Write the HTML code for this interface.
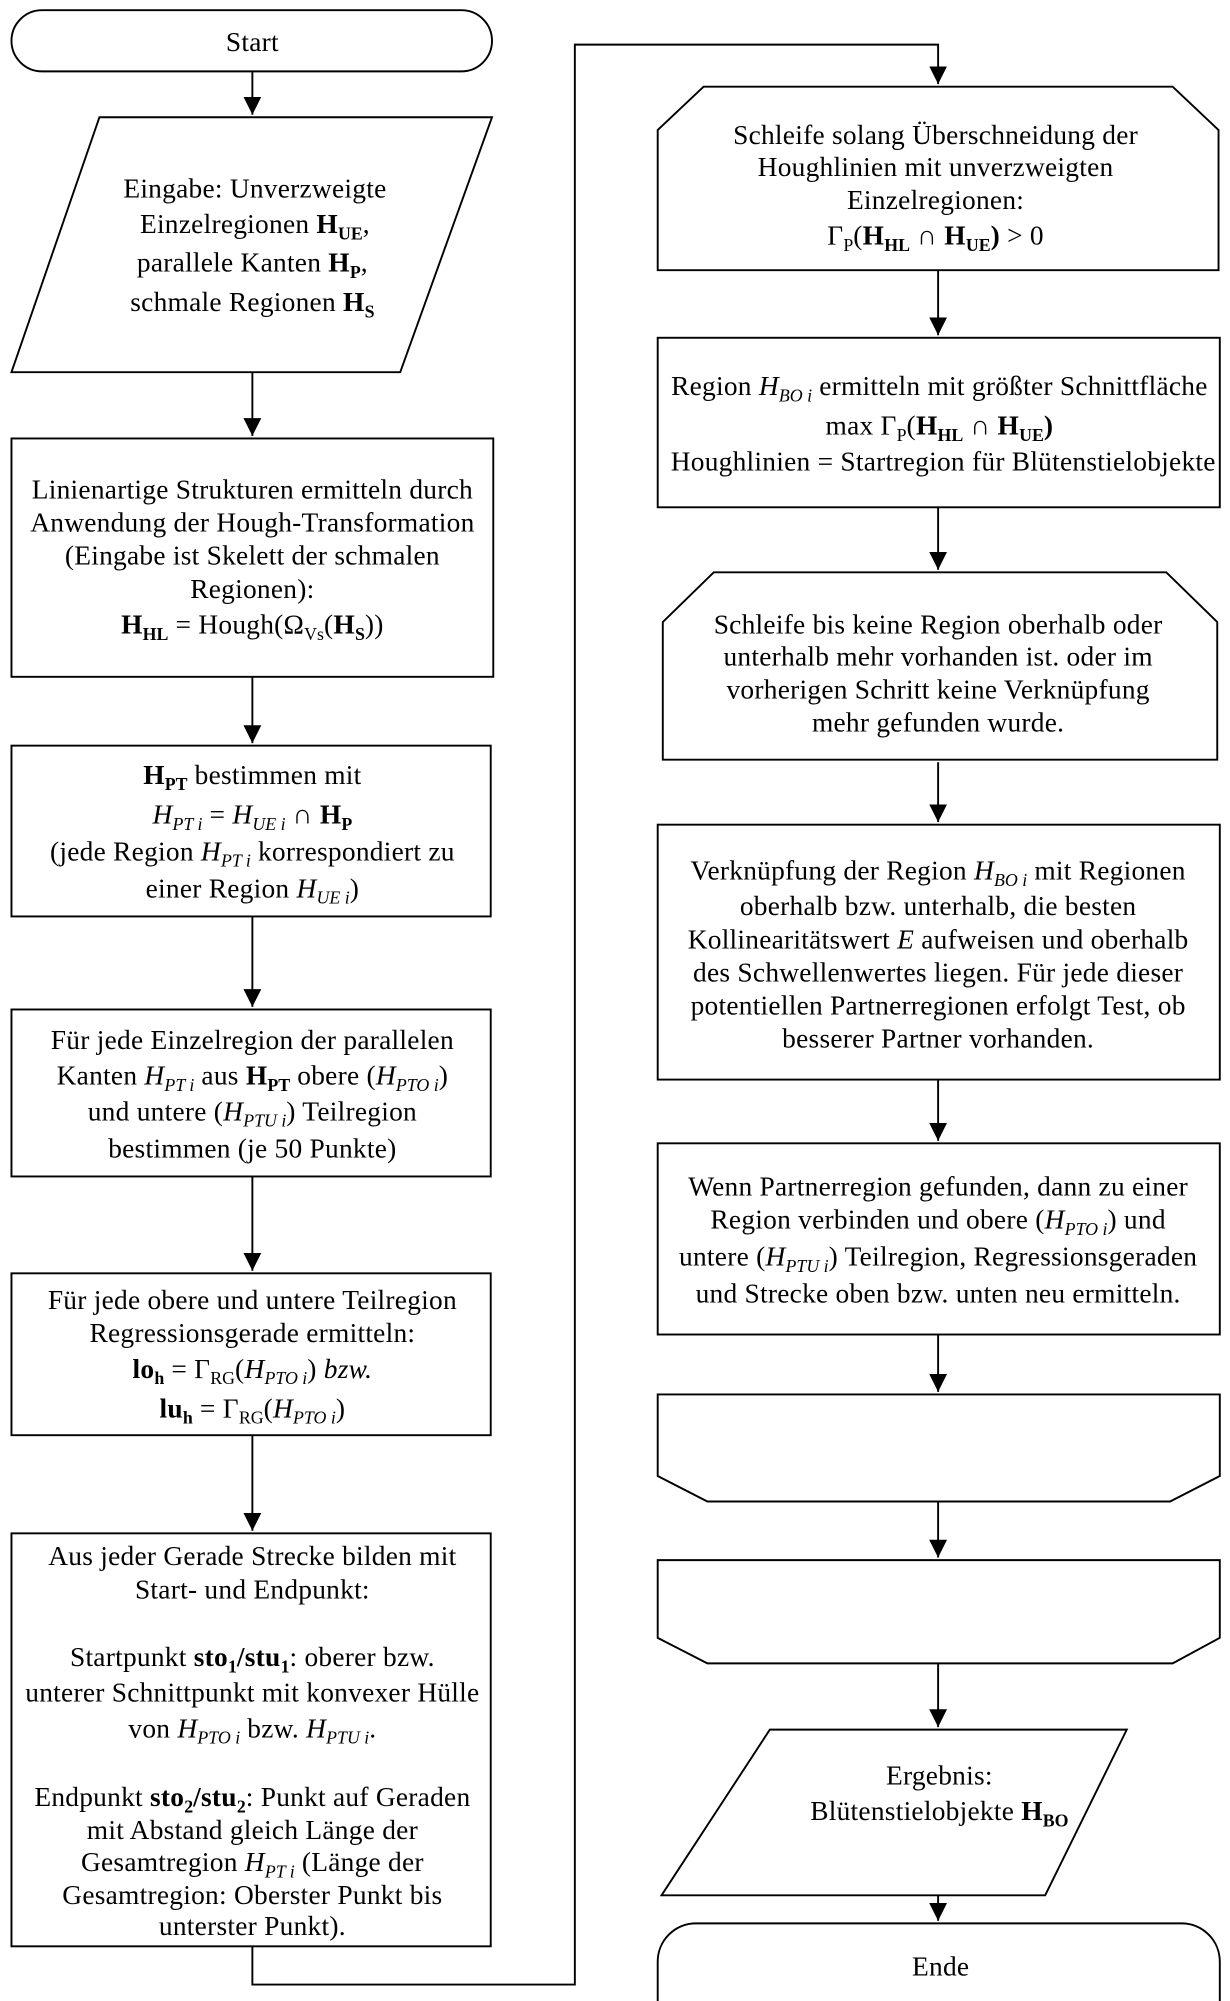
<!DOCTYPE html>
<html><head><meta charset="utf-8"><style>
html,body{margin:0;padding:0;background:#fff}
svg{display:block}
text{font-family:"Liberation Serif","DejaVu Serif",serif;font-size:21.5px;letter-spacing:0.2px;fill:#000;text-anchor:middle}
.s{font-size:14px;letter-spacing:0}
.i{font-style:italic}
.b{font-weight:bold}
</style></head><body>
<svg width="1230" height="2001" viewBox="0 0 965 1569.9" preserveAspectRatio="none" xmlns="http://www.w3.org/2000/svg">
<defs>
<marker id="ar" viewBox="0 0 10 10" markerWidth="14" markerHeight="16" refX="10" refY="5" orient="auto" markerUnits="userSpaceOnUse"><path d="M0,0 L10,5 L0,10 z"/></marker></defs>
<g fill="none" stroke="#000" stroke-width="1.5">
<rect x="9" y="8" width="377" height="48" rx="24"/>
<polygon points="78,92 386,92 314,292 9,292"/>
<rect x="9" y="344" width="378" height="187"/>
<rect x="9" y="585" width="376" height="134"/>
<rect x="9" y="792" width="376" height="131"/>
<rect x="9" y="999" width="376" height="127"/>
<rect x="9" y="1203" width="376" height="324"/>
<polygon points="516,102 552,68 920,68 956,102 956,212 516,212"/>
<rect x="516" y="265" width="441" height="133"/>
<polygon points="520,488 560,449 915,449 955,488 955,596 520,596"/>
<rect x="516" y="647" width="441" height="200"/>
<rect x="516" y="897" width="441" height="150"/>
<polygon points="516,1094 957,1094 957,1158 918,1178 555,1178 516,1158"/>
<polygon points="516,1224 957,1224 957,1285 920,1305 555,1305 516,1285"/>
<polygon points="604,1357 884,1357 820,1487 519,1487"/>
<path d="M546,1509 H927 A30,30 0 0 1 957,1539 V1575 H516 V1539 A30,30 0 0 1 546,1509 Z"/>
<g marker-end="url(#ar)">
<path d="M198,56 V90"/><path d="M198,292 V342"/><path d="M198,531 V583"/><path d="M198,719 V790"/><path d="M198,923 V997"/><path d="M198,1126 V1201"/>
<path d="M198,1527 V1557 H451 V35 H736 V66"/>
<path d="M736,212 V263"/><path d="M736,398 V447"/><path d="M736,598 V645"/><path d="M736,847 V895"/><path d="M736,1047 V1092"/><path d="M736,1178 V1222"/><path d="M736,1305 V1355"/><path d="M736,1487 V1507"/>
</g></g>
<text x="198" y="40">Start</text>
<text x="200" y="155">Eingabe: Unverzweigte</text>
<text x="200" y="183">Einzelregionen <tspan class="b">H</tspan><tspan class="b s" dy="5">UE</tspan><tspan dy="-5">,</tspan></text>
<text x="198" y="213">parallele Kanten <tspan class="b">H</tspan><tspan class="b s" dy="5">P</tspan><tspan dy="-5">,</tspan></text>
<text x="198" y="244">schmale Regionen <tspan class="b">H</tspan><tspan class="b s" dy="5">S</tspan></text>
<text x="198" y="391">Linienartige Strukturen ermitteln durch</text>
<text x="198" y="417">Anwendung der Hough-Transformation</text>
<text x="198" y="443">(Eingabe ist Skelett der schmalen</text>
<text x="198" y="469">Regionen):</text>
<text x="198" y="497"><tspan class="b">H</tspan><tspan class="b s" dy="5">HL</tspan><tspan dy="-5"> = Hough(Ω</tspan><tspan class="s" dy="5">Vs</tspan><tspan dy="-5">(</tspan><tspan class="b">H</tspan><tspan class="b s" dy="5">S</tspan><tspan dy="-5">))</tspan></text>
<text x="198" y="615"><tspan class="b">H</tspan><tspan class="b s" dy="5">PT</tspan><tspan dy="-5"> bestimmen mit</tspan></text>
<text x="198" y="646"><tspan class="i">H</tspan><tspan class="i s" dy="5">PT i</tspan><tspan dy="-5"> = </tspan><tspan class="i">H</tspan><tspan class="i s" dy="5">UE i</tspan><tspan dy="-5"> ∩ </tspan><tspan class="b">H</tspan><tspan class="b s" dy="5">P</tspan></text>
<text x="198" y="675">(jede Region <tspan class="i">H</tspan><tspan class="i s" dy="5">PT i</tspan><tspan dy="-5"> korrespondiert zu</tspan></text>
<text x="198" y="704">einer Region <tspan class="i">H</tspan><tspan class="i s" dy="5">UE i</tspan><tspan dy="-5">)</tspan></text>
<text x="198" y="823">Für jede Einzelregion der parallelen</text>
<text x="198" y="851">Kanten <tspan class="i">H</tspan><tspan class="i s" dy="5">PT i</tspan><tspan dy="-5"> aus </tspan><tspan class="b">H</tspan><tspan class="b s" dy="5">PT</tspan><tspan dy="-5"> obere (</tspan><tspan class="i">H</tspan><tspan class="i s" dy="5">PTO i</tspan><tspan dy="-5">)</tspan></text>
<text x="198" y="879">und untere (<tspan class="i">H</tspan><tspan class="i s" dy="5">PTU i</tspan><tspan dy="-5">) Teilregion</tspan></text>
<text x="198" y="908">bestimmen (je 50 Punkte)</text>
<text x="198" y="1027">Für jede obere und untere Teilregion</text>
<text x="198" y="1053">Regressionsgerade ermitteln:</text>
<text x="198" y="1081"><tspan class="b">lo</tspan><tspan class="b s" dy="5">h</tspan><tspan dy="-5"> = Γ</tspan><tspan class="s" dy="5">RG</tspan><tspan dy="-5">(</tspan><tspan class="i">H</tspan><tspan class="i s" dy="5">PTO i</tspan><tspan dy="-5">) </tspan><tspan class="i">bzw.</tspan></text>
<text x="198" y="1112"><tspan class="b">lu</tspan><tspan class="b s" dy="5">h</tspan><tspan dy="-5"> = Γ</tspan><tspan class="s" dy="5">RG</tspan><tspan dy="-5">(</tspan><tspan class="i">H</tspan><tspan class="i s" dy="5">PTO i</tspan><tspan dy="-5">)</tspan></text>
<text x="198" y="1228">Aus jeder Gerade Strecke bilden mit</text>
<text x="198" y="1254">Start- und Endpunkt:</text>
<text x="198" y="1307">Startpunkt <tspan class="b">sto</tspan><tspan class="b s" dy="5">1</tspan><tspan class="b" dy="-5">/stu</tspan><tspan class="b s" dy="5">1</tspan><tspan dy="-5">: oberer bzw.</tspan></text>
<text x="198" y="1335">unterer Schnittpunkt mit konvexer Hülle</text>
<text x="198" y="1363">von <tspan class="i">H</tspan><tspan class="i s" dy="5">PTO i</tspan><tspan dy="-5"> bzw. </tspan><tspan class="i">H</tspan><tspan class="i s" dy="5">PTU i</tspan><tspan dy="-5">.</tspan></text>
<text x="198" y="1417">Endpunkt <tspan class="b">sto</tspan><tspan class="b s" dy="5">2</tspan><tspan class="b" dy="-5">/stu</tspan><tspan class="b s" dy="5">2</tspan><tspan dy="-5">: Punkt auf Geraden</tspan></text>
<text x="198" y="1443">mit Abstand gleich Länge der</text>
<text x="198" y="1468">Gesamtregion <tspan class="i">H</tspan><tspan class="i s" dy="5">PT i</tspan><tspan dy="-5"> (Länge der</tspan></text>
<text x="198" y="1494">Gesamtregion: Oberster Punkt bis</text>
<text x="198" y="1518">unterster Punkt).</text>
<text x="734" y="113">Schleife solang Überschneidung der</text>
<text x="734" y="138">Houghlinien mit unverzweigten</text>
<text x="734" y="164">Einzelregionen:</text>
<text x="734" y="192">Γ<tspan class="s" dy="5">P</tspan><tspan dy="-5">(</tspan><tspan class="b">H</tspan><tspan class="b s" dy="5">HL</tspan><tspan dy="-5"> ∩ </tspan><tspan class="b">H</tspan><tspan class="b s" dy="5">UE</tspan><tspan class="b" dy="-5">)</tspan><tspan> &gt; 0</tspan></text>
<text x="737" y="310">Region <tspan class="i">H</tspan><tspan class="i s" dy="5">BO i</tspan><tspan dy="-5"> ermitteln mit größter Schnittfläche</tspan></text>
<text x="737" y="341">max Γ<tspan class="s" dy="5">P</tspan><tspan dy="-5">(</tspan><tspan class="b">H</tspan><tspan class="b s" dy="5">HL</tspan><tspan dy="-5"> ∩ </tspan><tspan class="b">H</tspan><tspan class="b s" dy="5">UE</tspan><tspan class="b" dy="-5">)</tspan></text>
<text x="740" y="369">Houghlinien = Startregion für Blütenstielobjekte</text>
<text x="736" y="497">Schleife bis keine Region oberhalb oder</text>
<text x="736" y="522">unterhalb mehr vorhanden ist. oder im</text>
<text x="736" y="548">vorherigen Schritt keine Verknüpfung</text>
<text x="736" y="574">mehr gefunden wurde.</text>
<text x="736" y="690">Verknüpfung der Region <tspan class="i">H</tspan><tspan class="i s" dy="5">BO i</tspan><tspan dy="-5"> mit Regionen</tspan></text>
<text x="736" y="718">oberhalb bzw. unterhalb, die besten</text>
<text x="736" y="744">Kollinearitätswert <tspan class="i">E</tspan> aufweisen und oberhalb</text>
<text x="736" y="770">des Schwellenwertes liegen. Für jede dieser</text>
<text x="736" y="796">potentiellen Partnerregionen erfolgt Test, ob</text>
<text x="736" y="822">besserer Partner vorhanden.</text>
<text x="736" y="938">Wenn Partnerregion gefunden, dann zu einer</text>
<text x="736" y="964">Region verbinden und obere (<tspan class="i">H</tspan><tspan class="i s" dy="5">PTO i</tspan><tspan dy="-5">) und</tspan></text>
<text x="736" y="993">untere (<tspan class="i">H</tspan><tspan class="i s" dy="5">PTU i</tspan><tspan dy="-5">) Teilregion, Regressionsgeraden</tspan></text>
<text x="736" y="1022">und Strecke oben bzw. unten neu ermitteln.</text>
<text x="737" y="1400">Ergebnis:</text>
<text x="737" y="1428">Blütenstielobjekte <tspan class="b">H</tspan><tspan class="b s" dy="5">BO</tspan></text>
<text x="738" y="1550">Ende</text>
</svg>
</body></html>
